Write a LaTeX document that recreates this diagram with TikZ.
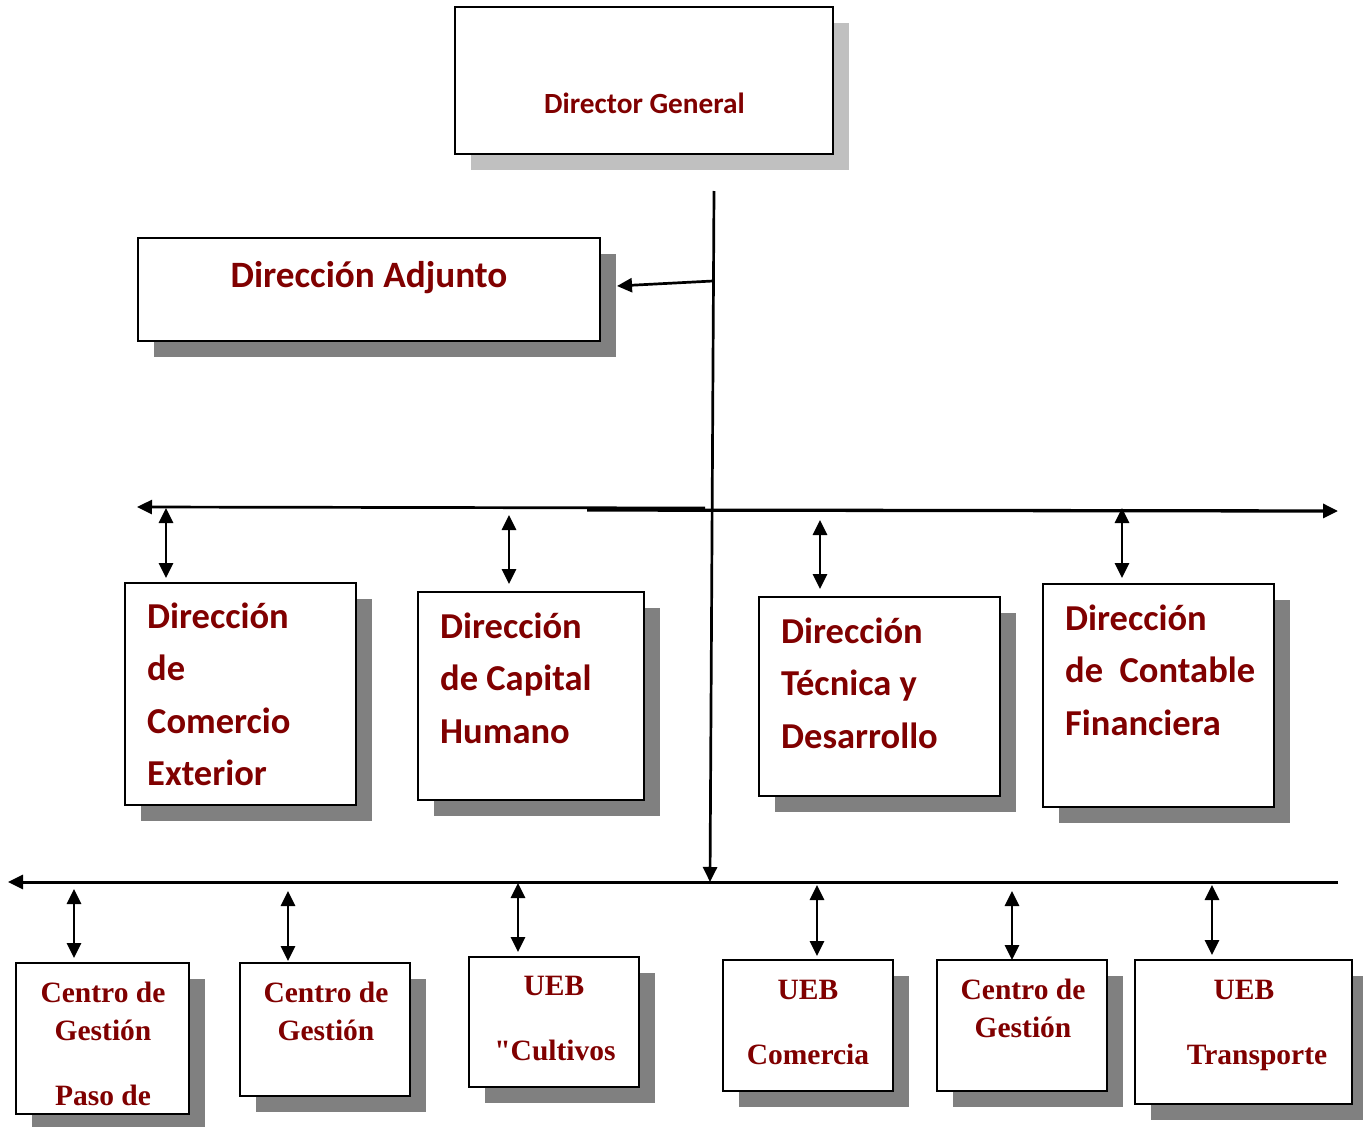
\documentclass[tikz,border=0pt]{standalone}
\usepackage{fontspec}
\setmainfont{Liberation Serif}
\newfontfamily\calfont{Carlito}
\newfontfamily\serifraw{Liberation Serif}[Ligatures=TeXOff]
\usetikzlibrary{arrows.meta,shadows}
\definecolor{maroonc}{RGB}{128,0,0}
\definecolor{lightsh}{RGB}{192,192,192}
\definecolor{darksh}{RGB}{128,128,128}
\begin{document}
\begin{tikzpicture}[x=1pt,y=-1pt,
  box/.style={draw=black,line width=2.2pt,fill=white,rectangle,inner sep=0pt,
    drop shadow={shadow xshift=16pt,shadow yshift=-16pt,fill=darksh,opacity=1}},
  boxl/.style={draw=black,line width=2.2pt,fill=white,rectangle,inner sep=0pt,
    drop shadow={shadow xshift=16pt,shadow yshift=-16pt,fill=lightsh,opacity=1}},
  sanstxt/.style={text=maroonc,inner sep=0pt,font=\calfont\bfseries\fontsize{36.5}{42}\selectfont},
  seriftxt/.style={text=maroonc,inner sep=0pt,font=\bfseries\fontsize{29.5}{34}\selectfont},
  conn/.style={line width=2.7pt},
  arr/.style={conn,-{Triangle[length=15pt,width=14pt]}},
  darr/.style={conn,{Triangle[length=15pt,width=14pt]}-{Triangle[length=15pt,width=14pt]}}
]
\useasboundingbox[fill=white] (0,0) rectangle (1363,1127);

% ---- top boxes
\node[boxl,minimum width=378pt,minimum height=147pt] (dg) at (644,80.5) {};
\node[sanstxt,font=\calfont\bfseries\fontsize{29.3}{34}\selectfont,anchor=base] (dgt) at (644.5,113) {Director General};

\node[box,minimum width=462pt,minimum height=103pt] (adj) at (369,289.5) {};
\node[sanstxt,font=\calfont\bfseries\fontsize{37.2}{44}\selectfont,anchor=base] (adjt) at (369,287) {Dirección Adjunto};

% ---- main trunk
\coordinate (vtop) at (714,191);
\coordinate (vmid) at (713,281);
\coordinate (vbot) at (710,882);
\draw[arr] (vtop) -- (vbot);
\draw[arr] (vmid) -- (617,286) coordinate (adjin);

% ---- upper bus
\coordinate (ubL) at (137,507);
\coordinate (ubM) at (705,508);
\coordinate (ubS) at (587,510);
\coordinate (ubR) at (1338,511);
\draw[arr] (ubM) -- (ubL);
\draw[arr,line width=3.3pt] (ubS) -- (ubR);

% ---- upper boxes
\node[box,minimum width=231pt,minimum height=222pt] (b1) at (240.5,694) {};
\node[box,minimum width=226pt,minimum height=208pt] (b2) at (531,696) {};
\node[box,minimum width=241pt,minimum height=199pt] (b3) at (879.5,696.5) {};
\node[box,minimum width=231pt,minimum height=223pt] (b4) at (1158.5,695.5) {};

\node[sanstxt,anchor=base west] (b1a) at (147,628) {Dirección};
\node[sanstxt,anchor=base west] (b1b) at (147,680.5) {de};
\node[sanstxt,anchor=base west] (b1c) at (147,733) {Comercio};
\node[sanstxt,anchor=base west] (b1d) at (147,785.5) {Exterior};

\node[sanstxt,anchor=base west] (b2a) at (440,638) {Dirección};
\node[sanstxt,anchor=base west] (b2b) at (440,690.5) {de Capital};
\node[sanstxt,anchor=base west] (b2c) at (440,743) {Humano};

\node[sanstxt,anchor=base west] (b3a) at (781,643) {Dirección};
\node[sanstxt,anchor=base west] (b3b) at (781,695.5) {Técnica y};
\node[sanstxt,anchor=base west] (b3c) at (781,748) {Desarrollo};

\node[sanstxt,anchor=base west] (b4a) at (1065,630) {Dirección};
\node[sanstxt,anchor=base west] (b4b) at (1065,682.5) {de\ \ Contable};
\node[sanstxt,anchor=base west] (b4c) at (1065,735) {Financiera};

\draw[darr] (166,508) -- (166,578);
\draw[darr] (509,515) -- (509,584);
\draw[darr] (820,520) -- (820,589);
\draw[darr] (1122,508) -- (1122,578);

% ---- lower bus
\coordinate (lbR) at (1338,882);
\coordinate (lbL) at (8,882);
\draw[arr,line width=3pt] (lbR) -- (lbL);

% ---- lower boxes
\node[box,minimum width=173pt,minimum height=151pt] (c1) at (102.5,1038.5) {};
\node[box,minimum width=170pt,minimum height=133pt] (c2) at (325,1029.5) {};
\node[box,minimum width=170pt,minimum height=130pt] (c3) at (554,1022) {};
\node[box,minimum width=170pt,minimum height=131pt] (c4) at (808,1025.5) {};
\node[box,minimum width=170pt,minimum height=131pt] (c5) at (1022,1025.5) {};
\node[box,minimum width=217pt,minimum height=144pt] (c6) at (1243.5,1032) {};

\node[seriftxt,anchor=base] (c1a) at (103,1002) {Centro de};
\node[seriftxt,anchor=base] (c1b) at (103,1040) {Gestión};
\node[seriftxt,anchor=base] (c1c) at (103,1105) {Paso de};

\node[seriftxt,anchor=base] (c2a) at (326,1002) {Centro de};
\node[seriftxt,anchor=base] (c2b) at (326,1040) {Gestión};

\node[seriftxt,anchor=base] (c3a) at (554,995) {UEB};
\node[seriftxt,anchor=base] (c3b) at (555,1060) {{\serifraw\symbol{34}}Cultivos};

\node[seriftxt,anchor=base] (c4a) at (808,999) {UEB};
\node[seriftxt,anchor=base] (c4b) at (808,1064) {Comercia};

\node[seriftxt,anchor=base] (c5a) at (1023,999) {Centro de};
\node[seriftxt,anchor=base] (c5b) at (1023,1037) {Gestión};

\node[seriftxt,anchor=base] (c6a) at (1244,999) {UEB};
\node[seriftxt,anchor=base] (c6b) at (1257,1064) {Transporte};

\draw[darr] (74,889) -- (74,958);
\draw[darr] (288,891) -- (288,961);
\draw[darr] (518,883) -- (518,952);
\draw[darr] (817,885) -- (817,956);
\draw[darr] (1012,891) -- (1012,960);
\draw[darr] (1212,885) -- (1212,955);
\end{tikzpicture}
\end{document}
